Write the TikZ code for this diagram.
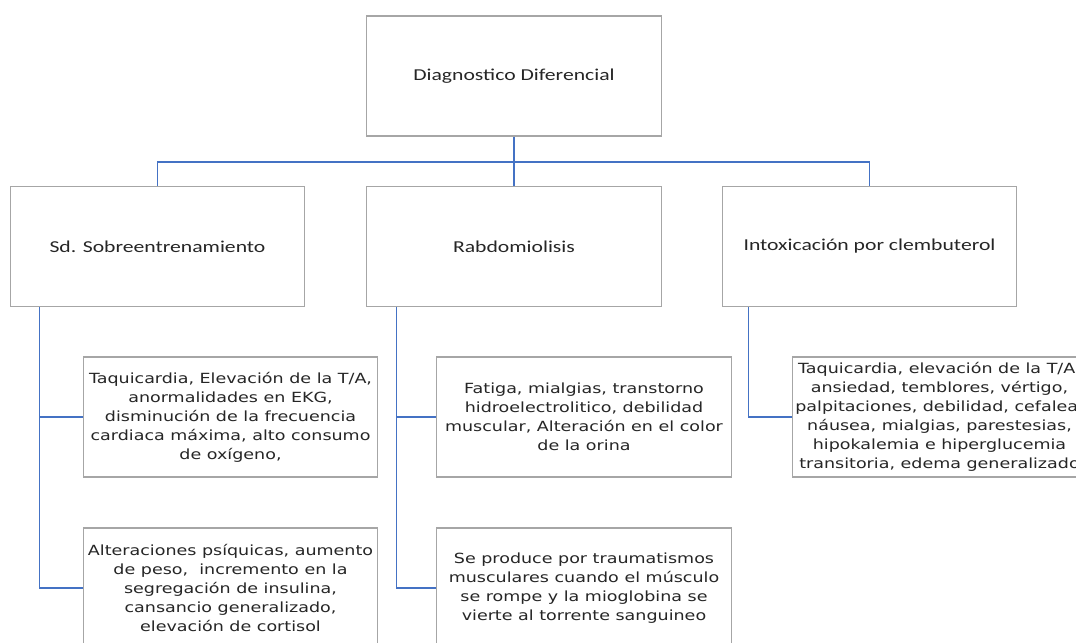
\documentclass[tikz,border=0pt]{standalone}
\usepackage{fontspec}
\setmainfont[FakeStretch=1.3]{Carlito}
\newfontfamily\boxfont[FakeStretch=1.25]{DejaVu Sans}
\usetikzlibrary{positioning}
\definecolor{linkblue}{RGB}{68,114,196}
\definecolor{boxgray}{RGB}{166,166,166}
\definecolor{textgray}{RGB}{38,38,38}

\begin{document}
\begin{tikzpicture}[x=0.75pt,y=-0.75pt,
    box/.style={draw=boxgray, line width=0.8pt, fill=white, text=textgray, minimum width=221pt, minimum height=90pt, align=center, inner sep=0pt},
    headbox/.style={box, font=\fontsize{12.5}{15}\selectfont},
    infobox/.style={box, font=\boxfont\fontsize{10.5}{14.2}\selectfont},
    link/.style={draw=linkblue, line width=0.9pt}]

    \useasboundingbox (0,0) rectangle (1076,643);
    \clip (0,0) rectangle (1076,643);

    % top level
    \node[headbox] (diag) at (514,76) {Diagnostico Diferencial};

    % second level
    \node[headbox] (sobre) at (157.5,246.5) {Sd. Sobreentrenamiento};
    \node[headbox] (rabdo) at (514,246.5) {Rabdomiolisis};
    \node[headbox] (clemb) at (869.5,246.5) {Intoxicación por clembuterol};

    % details
    \node[infobox] (sobre1) at (230.5,417) {Taquicardia, Elevación de la T/A,\\ anormalidades en EKG,\\ disminución de la frecuencia\\ cardiaca máxima, alto consumo\\ de oxígeno,};
    \node[infobox] (sobre2) at (230.5,588) {Alteraciones psíquicas, aumento\\ de peso,\ \ incremento en la\\ segregación de insulina,\\ cansancio generalizado,\\ elevación de cortisol};
    \node[infobox] (rabdo1) at (584,417) {Fatiga, mialgias, transtorno\\ hidroelectrolitico, debilidad\\ muscular, Alteración en el color\\ de la orina};
    \node[infobox] (rabdo2) at (584,588) {Se produce por traumatismos\\ musculares cuando el músculo\\ se rompe y la mioglobina se\\ vierte al torrente sanguineo};
    \node[infobox] (clemb1) at (939.5,417) {Taquicardia, elevación de la T/A,\\ ansiedad, temblores, vértigo,\\ palpitaciones, debilidad, cefalea,\\ náusea, mialgias, parestesias,\\ hipokalemia e hiperglucemia\\ transitoria, edema generalizado};

    % connectors
    \coordinate (bar) at (514,162);
    \draw[link] (diag.south) -- (bar);
    \draw[link] (bar) -| (sobre.north);
    \draw[link] (bar) -- (rabdo.north);
    \draw[link] (bar) -| (clemb.north);

    \draw[link] ([xshift=22.5pt]sobre.south west) |- (sobre1.west);
    \draw[link] ([xshift=22.5pt]sobre.south west) |- (sobre2.west);
    \draw[link] ([xshift=22.5pt]rabdo.south west) |- (rabdo1.west);
    \draw[link] ([xshift=22.5pt]rabdo.south west) |- (rabdo2.west);
    \draw[link] ([xshift=20pt]clemb.south west) |- (clemb1.west);
\end{tikzpicture}
\end{document}
